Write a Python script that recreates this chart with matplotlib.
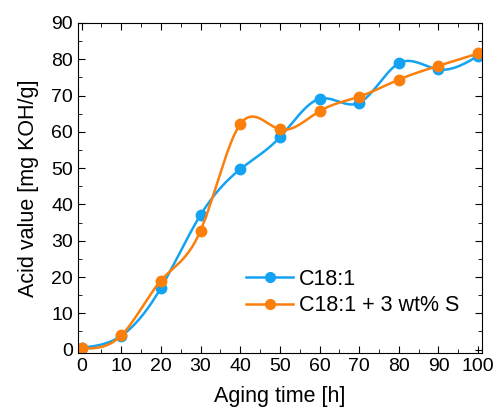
import numpy as np
import matplotlib
matplotlib.use('Agg')
import matplotlib.pyplot as plt
from matplotlib.ticker import MultipleLocator

plt.rcParams['font.family'] = ['Liberation Sans', 'DejaVu Sans']

# datos
time = [0, 10, 20, 30, 40, 50, 60, 70, 80, 90, 100]
c181 = [0.5, 3.8, 17.0, 37.1, 49.7, 58.5, 69.1, 68.0, 78.9, 77.2, 80.9]
c181_s = [0.3, 3.9, 19.0, 32.8, 62.1, 60.7, 65.7, 69.7, 74.4, 78.2, 81.6]
labels = ['C18:1', 'C18:1 + 3 wt% S']
colors = ['#14a3f2', '#fb7f0a']


# spline cubico natural para la linea suavizada
def spline(x, y, n=400):
    x = np.asarray(x, float)
    y = np.asarray(y, float)
    m = len(x)
    h = np.diff(x)
    A = np.zeros((m, m))
    b = np.zeros(m)
    A[0, 0] = A[-1, -1] = 1
    for i in range(1, m - 1):
        A[i, i - 1] = h[i - 1]
        A[i, i] = 2 * (h[i - 1] + h[i])
        A[i, i + 1] = h[i]
        b[i] = 3 * ((y[i + 1] - y[i]) / h[i] - (y[i] - y[i - 1]) / h[i - 1])
    c = np.linalg.solve(A, b)
    xs = np.linspace(x[0], x[-1], n)
    ys = np.empty_like(xs)
    for k, xv in enumerate(xs):
        i = min(np.searchsorted(x, xv, side='right') - 1, m - 2)
        dx = xv - x[i]
        bi = (y[i + 1] - y[i]) / h[i] - h[i] * (2 * c[i] + c[i + 1]) / 3
        di = (c[i + 1] - c[i]) / (3 * h[i])
        ys[k] = y[i] + bi * dx + c[i] * dx ** 2 + di * dx ** 3
    return xs, ys


fig = plt.figure(figsize=(4.97, 4.18), dpi=100)
ax = fig.add_axes([0.157, 0.155, 0.813, 0.79])

for ys, lab, col in zip([c181, c181_s], labels, colors):
    xs, yy = spline(time, ys)
    ax.plot(xs, yy, color=col, lw=1.8)
    ax.plot(time, ys, 'o', color=col, ms=7.5)
    ax.plot([], [], '-o', color=col, lw=1.8, ms=7, label=lab)

ax.set_xlim(-0.9, 101)
ax.set_ylim(-1, 90)
ax.xaxis.set_major_locator(MultipleLocator(10))
ax.xaxis.set_minor_locator(MultipleLocator(5))
ax.yaxis.set_major_locator(MultipleLocator(10))
ax.yaxis.set_minor_locator(MultipleLocator(5))
ax.tick_params(which='both', direction='in', top=True, right=True, labelsize=14)
ax.tick_params(which='major', length=5)
ax.tick_params(which='minor', length=3)
ax.set_xlabel('Aging time [h]', fontsize=15.5, labelpad=8)
ax.set_ylabel('Acid value [mg KOH/g]', fontsize=15.5, labelpad=9)
ax.legend(loc='lower right', bbox_to_anchor=(0.992, 0.053), frameon=False, fontsize=15.5,
          handlelength=2.15, handletextpad=0.3, labelspacing=0.25)

fig.savefig('out.png', dpi=100)
